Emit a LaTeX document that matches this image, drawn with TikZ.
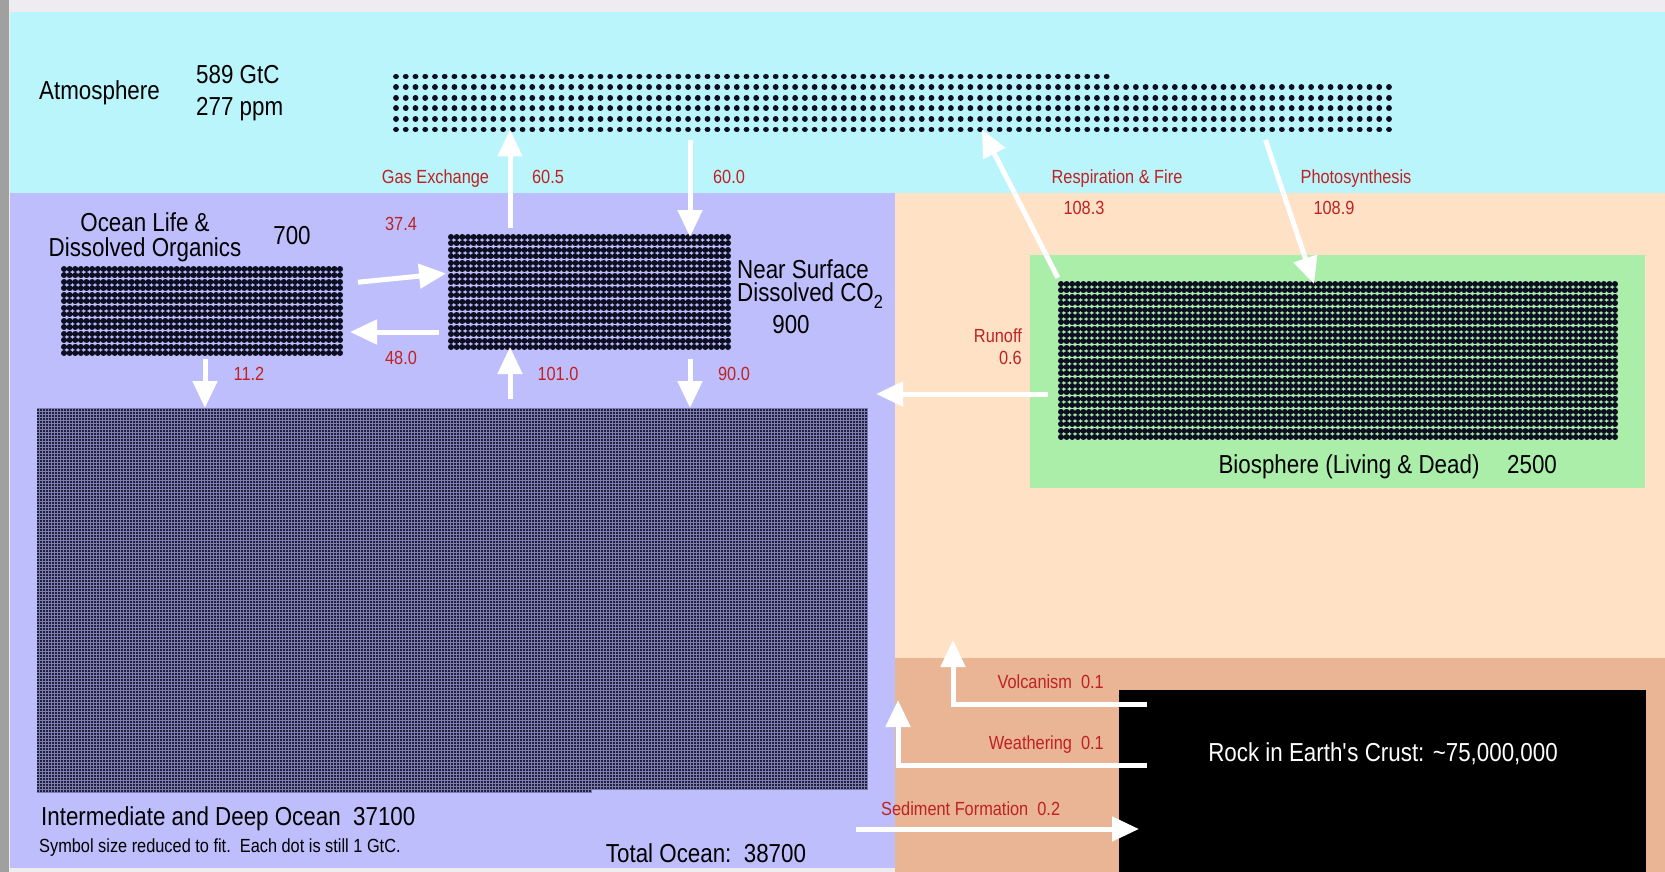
\documentclass[tikz,border=0pt]{standalone}
\usepackage{fontspec}
\setmainfont[FakeStretch=0.86]{Liberation Sans}
\usetikzlibrary{arrows.meta}

\definecolor{sky}{RGB}{186,245,252}
\definecolor{ocean}{RGB}{190,190,252}
\definecolor{land}{RGB}{255,225,198}
\definecolor{crust}{RGB}{233,181,148}
\definecolor{leaf}{RGB}{170,238,170}
\definecolor{fluxred}{RGB}{190,34,34}
\definecolor{carbon}{RGB}{14,14,34}
\definecolor{abyss}{RGB}{30,32,62}
\definecolor{mesh}{RGB}{125,125,175}
\definecolor{frame}{RGB}{238,236,241}
\definecolor{edge}{RGB}{160,160,160}

\newcommand{\stocksize}{\fontsize{26}{25}\selectfont}
\newcommand{\fluxsize}{\fontsize{19}{22}\selectfont}

\tikzset{
  store/.style 2 args={inner sep=0pt, outer sep=0pt, minimum width=#1, minimum height=#2},
  dotrow/.style 2 args={draw=carbon, line width=#1, line cap=round, dash pattern=on 0.01pt off #2},
  meshgrid/.style={draw=mesh, line width=0.3pt, step=3pt},
  stock/.style={font=\stocksize, inner sep=0pt},
  fluxlabel/.style={font=\fluxsize, text=fluxred, inner sep=0pt},
  flow/.style={draw=white, line width=5pt, -{Triangle[width=24pt,length=27pt]}},
}

\begin{document}
\begin{tikzpicture}[x=1pt,y=-1pt]
  \useasboundingbox (0,0) rectangle (1665,872);
  % Backgrounds
  \fill[frame] (0,0) rectangle (1665,872);
  \fill[edge] (0,0) rectangle (9,872);
  \fill[sky] (10,12) rectangle (1665,193);
  \fill[ocean] (10,193) rectangle (895,868);
  \fill[land] (895,193) rectangle (1665,658);
  \fill[crust] (895,658) rectangle (1665,872);
  \fill[leaf] (1030,255) rectangle (1645,488);

  % Carbon stores, one dot per GtC
  \node[store={993pt}{53pt}] (atmos) at (892.5,103) {};
  \node[store={276pt}{84pt}] (life) at (202,311) {};
  \node[store={277pt}{110pt}] (surf) at (589.5,292) {};
  \node[store={831pt}{381pt}, fill=abyss] (deep) at (452.5,598.5) {};
  \node[store={554pt}{153pt}] (bio) at (1338,360.5) {};
  \node[store={527pt}{182pt}, fill=black] (rock) at (1382.5,781) {};

  \draw[dotrow={5.8pt}{9.725pt}] (atmos.north west) -- ++(711,0);
  \foreach \r in {1,...,5}
    \draw[dotrow={5.8pt}{9.725pt}] ([yshift=-\r*10.6pt]atmos.north west) -- ++(993,0);
  \foreach \r in {0,...,13}
    \draw[dotrow={6pt}{5.623pt}] ([yshift=-\r*6.46pt]life.north west) -- ++(276.1,0);
  \foreach \r in {0,...,17}
    \draw[dotrow={6pt}{5.643pt}] ([yshift=-\r*6.47pt]surf.north west) -- ++(277.1,0);
  \foreach \r in {0,...,24}
    \draw[dotrow={6pt}{5.586pt}] ([yshift=-\r*6.375pt]bio.north west) -- ++(554.1,0);
  % deep ocean: dots too small to draw, shown as a fine mesh
  \fill[abyss] (deep.south west) rectangle ++(555,3.5);
  \draw[meshgrid] (deep.north west) grid (deep.south east);
  \draw[meshgrid] (deep.south west) grid ++(555,3.5);

  % Atmosphere
  \node[stock, anchor=base west] (atmoslabel) at (39,100) {Atmosphere};
  \node[stock, align=left, anchor=west, font=\fontsize{26}{32}\selectfont] (atmosvalue) at (196,93) {589 GtC\\277 ppm};
  \node[fluxlabel, anchor=base] (gaslabel) at (435.5,183) {Gas Exchange};
  \node[fluxlabel, anchor=base] (gasup) at (548,183) {60.5};
  \node[fluxlabel, anchor=base] (gasdown) at (729,183) {60.0};
  \node[fluxlabel, anchor=base] (resplabel) at (1117,183) {Respiration \& Fire};
  \node[fluxlabel, anchor=base] (photolabel) at (1356,183) {Photosynthesis};
  \node[fluxlabel, anchor=base] (respvalue) at (1084,214) {108.3};
  \node[fluxlabel, anchor=base] (photovalue) at (1334,214) {108.9};

  % Ocean
  \node[stock, align=center] (lifelabel) at (145,237) {Ocean Life \&\\Dissolved Organics};
  \node[stock, anchor=base] (lifevalue) at (292,244) {700};
  \node[stock, align=left, anchor=west, font=\fontsize{26}{23}\selectfont] (surflabel) at (737,284) {Near Surface\\Dissolved CO\raisebox{-7pt}{\fluxsize 2}};
  \node[stock, anchor=base] (surfvalue) at (791,333) {900};
  \node[fluxlabel, anchor=base] (lifeup) at (401,230) {37.4};
  \node[fluxlabel, anchor=base] (lifedown) at (401,364) {48.0};
  \node[fluxlabel, anchor=base] (sinking) at (249,380) {11.2};
  \node[fluxlabel, anchor=base] (upwell) at (558,380) {101.0};
  \node[fluxlabel, anchor=base] (downwell) at (734,380) {90.0};
  \node[stock, anchor=base west] (deeplabel) at (41,825) {Intermediate and Deep Ocean~~37100};
  \node[fluxlabel, text=black, anchor=base west] (note) at (39,852) {Symbol size reduced to fit.~~Each dot is still 1 GtC.};
  \node[stock, anchor=base] (total) at (706,862) {Total Ocean:~~38700};

  % Land
  \node[stock, anchor=base] (biolabel) at (1349,473) {Biosphere (Living \& Dead)};
  \node[stock, anchor=base] (biovalue) at (1532,473) {2500};
  \node[fluxlabel, align=right, anchor=east] (runofflabel) at (1022,347) {Runoff\\0.6};

  % Rock
  \node[stock, text=white, anchor=base] (rocklabel) at (1383,761) {Rock in Earth\textquotesingle s Crust: \textasciitilde 75,000,000};
  \node[fluxlabel, anchor=base east] (volclabel) at (1104,688) {Volcanism~~0.1};
  \node[fluxlabel, anchor=base east] (weathlabel) at (1104,749) {Weathering~~0.1};
  \node[fluxlabel, anchor=base west] (sedlabel) at (881,815) {Sediment Formation~~0.2};

  % Flows
  \coordinate (volcano) at (953,640);
  \coordinate (weather) at (898,700);
  \coordinate (sediment) at (856,829);
  \draw[flow, shorten <=9pt] ([xshift=-79.5pt]surf.north) -- ([xshift=-79.5pt]surf.north |- atmos.south);
  \draw[flow, shorten <=11pt] ([xshift=100.5pt]surf.north |- atmos.south) -- ([xshift=100.5pt]surf.north);
  \draw[flow, shorten <=18pt, shorten >=5pt] ([yshift=27pt]life.east) -- ([yshift=19pt]surf.west);
  \draw[flow, shorten <=12pt, shorten >=10pt] ([yshift=-40pt]surf.west) -- ([yshift=-40pt]surf.west -| life.east);
  \draw[flow, shorten <=6pt] ([xshift=3pt]life.south) -- ([xshift=3pt]life.south |- deep.north);
  \draw[flow, shorten <=9pt] ([xshift=-79.5pt]surf.south |- deep.north) -- ([xshift=-79.5pt]surf.south);
  \draw[flow, shorten <=12pt] ([xshift=100.5pt]surf.south) -- ([xshift=100.5pt]surf.south |- deep.north);
  \draw[flow, shorten <=7pt] (bio.north west) -- ([xshift=-79pt]bio.north west |- atmos.south);
  \draw[flow, shorten <=11pt] ([xshift=-76pt]bio.north |- atmos.south) -- ([xshift=-24pt]bio.north);
  \draw[flow, shorten <=13pt, shorten >=8pt] ([yshift=-33.5pt]bio.west) -- ([yshift=-33.5pt]bio.west -| deep.east);
  \draw[flow] ([xshift=28pt,yshift=77pt]rock.west) -| (volcano);
  \draw[flow] ([xshift=28pt,yshift=16pt]rock.west) -| (weather);
  \draw[flow] (sediment) -- ([xshift=20pt]rock.west |- sediment);
\end{tikzpicture}
\end{document}
